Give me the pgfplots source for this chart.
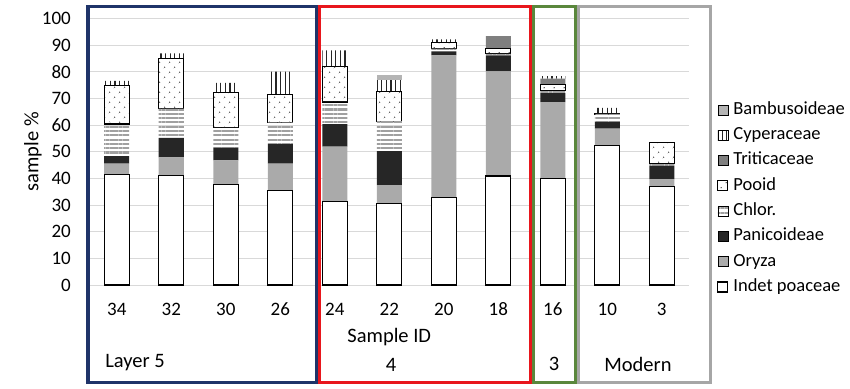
\documentclass[border=0pt]{standalone}
\usepackage{fontspec}
\setmainfont{Carlito}
\usepackage{pgfplots}
\usepackage{pgfplotstable}
\pgfplotsset{compat=1.18}
\usetikzlibrary{patterns.meta}
\definecolor{oryzac}{RGB}{170,170,170}
\definecolor{panc}{RGB}{38,38,38}
\definecolor{tritc}{RGB}{127,127,127}
\definecolor{bambc}{RGB}{180,180,180}
\definecolor{chlorc}{RGB}{160,160,160}
\definecolor{gridc}{RGB}{217,217,217}
\definecolor{navyc}{RGB}{31,52,105}
\definecolor{redc}{RGB}{232,22,28}
\definecolor{greenc}{RGB}{90,135,60}
\definecolor{grayc}{RGB}{166,166,166}
\definecolor{dotc}{RGB}{90,90,90}

\pgfplotstableread{
cat indet oryza pan chlor pooid trit cyper bamb
0  41.6  4.0  2.8 12.0 14.35 0   1.85 0
1  41.0  6.9  7.3 11.0 18.7  0   2.0  0
2  37.8  9.0  4.8  7.4 13.25 0   3.65 0
3  35.6 10.0  7.3  8.1 10.4  0   8.7  0
4  31.4 20.5  8.5  8.3 13.4  0   6.0  0
5  30.5  7.0 12.8 11.2 11.25 0   4.15 1.85
6  32.8 53.4  1.5  1.0  2.3  0   1.2  0
7  40.9 39.3  6.0  0.6  2.1  4.5 0    0
8  40.0 28.6  3.4  1.1  2.2  2.2 0.9  0
9  52.5  6.2  2.5  3.0  0.3  0   2.0  0
10 37.1  2.6  5.0  0.9  7.8  0   0    0
}\datatable

\begin{document}
\begin{tikzpicture}
\path[use as bounding box] (-89.5bp,-104bp) rectangle (760.5bp,285bp);
\begin{axis}[
  at={(0,0)}, anchor=south west,
  scale only axis, width=599.5bp, height=266.4bp,
  ybar stacked, bar width=25bp,
  xmin=-0.5, xmax=10.5, ymin=0, ymax=100,
  xtick={0,...,10},
  xticklabels={34,32,30,26,24,22,20,18,16,10,3},
  ytick={0,10,...,100},
  major tick length=0pt,
  axis line style={draw=none},
  ymajorgrids, grid style={draw=gridc, line width=1bp},
  /pgf/number format/assume math mode=true,
  xticklabel style={anchor=center, inner sep=0pt, yshift=-24bp, font=\fontsize{19bp}{22bp}\selectfont},
  yticklabel style={anchor=east, inner sep=0pt, xshift=-18.5bp, font=\fontsize{19bp}{22bp}\selectfont},
  xlabel={Sample ID},
  xlabel style={at={(axis description cs:0.5,-0.1952)}, anchor=center, inner sep=0pt, font=\fontsize{20.5bp}{24bp}\selectfont},
  ylabel={sample \%},
  ylabel style={at={(axis description cs:-0.0943,0.5)}, anchor=center, inner sep=0pt, font=\fontsize{20.5bp}{24bp}\selectfont},
  reverse legend,
  legend cell align=left,
  legend image code/.code={\draw[#1] (0bp,-5bp) rectangle (10bp,5bp);},
  legend style={draw=none, fill=none, at={(1.0467,0.69)}, anchor=north west,
    inner sep=0pt, column sep=5bp, row sep=8.3bp,
    font=\fontsize{18.5bp}{21bp}\selectfont,
    nodes={inner sep=0pt, text height=13bp, text depth=4bp}},
]
\addplot[fill=white, draw=black, line width=1.2bp] table[x=cat,y=indet]{\datatable};
\addlegendentry{Indet poaceae}
\addplot[fill=oryzac, draw=none] table[x=cat,y=oryza]{\datatable};
\addlegendentry{Oryza}
\addplot[fill=panc, draw=none] table[x=cat,y=pan]{\datatable};
\addlegendentry{Panicoideae}
\addplot[draw=none, pattern={Lines[angle=0, distance=4.3bp, line width=2.1bp]}, pattern color=chlorc] table[x=cat,y=chlor]{\datatable};
\addlegendentry{Chlor.}
\addplot[draw=black, line width=1.2bp, preaction={fill=white}, pattern={Dots[distance=6.8bp, radius=0.75bp, angle=45]}, pattern color=dotc] table[x=cat,y=pooid]{\datatable};
\addlegendentry{Pooid}
\addplot[fill=tritc, draw=none] table[x=cat,y=trit]{\datatable};
\addlegendentry{Triticaceae}
\addplot[draw=none, pattern={Lines[angle=90, distance=4.6bp, line width=1.2bp]}, pattern color=black!85] table[x=cat,y=cyper]{\datatable};
\addlegendentry{Cyperaceae}
\addplot[fill=bambc, draw=none] table[x=cat,y=bamb]{\datatable};
\addlegendentry{Bambusoideae}
\end{axis}
\draw[navyc, line width=3bp] (-1.5bp,278.5bp) rectangle (227bp,-97.5bp);
\draw[redc, line width=3bp] (230bp,278.5bp) rectangle (441bp,-97.5bp);
\draw[greenc, line width=3bp] (444bp,278.5bp) rectangle (485.5bp,-97.5bp);
\draw[grayc, line width=3bp] (489bp,278.5bp) rectangle (621bp,-97.5bp);
\begin{scope}[every node/.style={font=\fontsize{20.5bp}{24bp}\selectfont, inner sep=0pt}]
\node at (45.5bp,-78bp) {Layer 5};
\node at (301.5bp,-80bp) {4};
\node at (464.5bp,-79bp) {3};
\node at (548.5bp,-79bp) {Modern};
\end{scope}
\end{tikzpicture}
\end{document}
